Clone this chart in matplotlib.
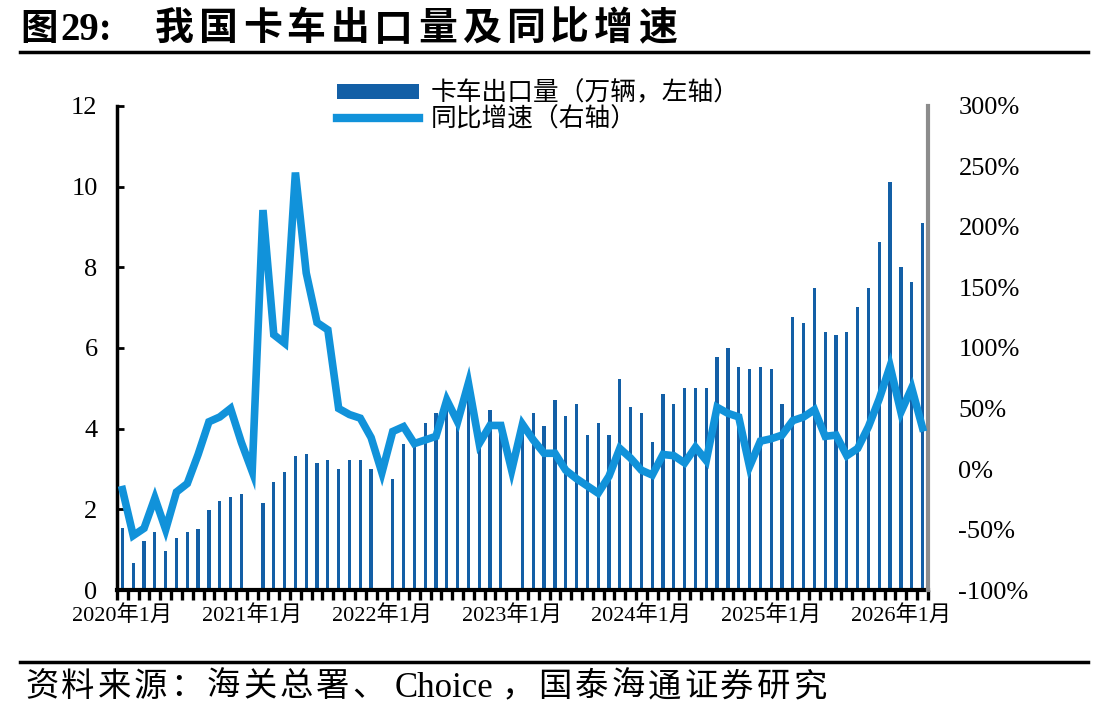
import numpy as np
import pandas as pd
import matplotlib
matplotlib.use('Agg')
import matplotlib.pyplot as plt
from matplotlib.lines import Line2D
from matplotlib.patches import Patch

plt.rcParams['font.family'] = ['Liberation Serif', 'Noto Sans CJK SC']
plt.rcParams['axes.unicode_minus'] = False

# 月份：2020年1月 - 2026年3月
months = pd.period_range('2020-01', '2026-03', freq='M')

# 卡车出口量（万辆）
export_vol = [
    1.53, 0.67, 1.21, 1.44, 0.97, 1.29, 1.44, 1.52, 1.98, 2.21, 2.30, 2.38,
    np.nan, 2.15, 2.69, 2.92, 3.31, 3.37, 3.14, 3.22, 3.00, 3.22, 3.22, 3.00,
    np.nan, 2.75, 3.62, 3.55, 4.15, 4.39, 4.85, 4.30, 4.95, 3.65, 4.46, 4.05,
    np.nan, 4.15, 4.38, 4.07, 4.70, 4.32, 4.61, 3.84, 4.15, 3.84, 5.23, 4.53,
    4.38, 3.67, 4.86, 4.61, 5.00, 5.00, 5.00, 5.77, 6.01, 5.54, 5.47, 5.54,
    5.47, 4.61, 6.78, 6.63, 7.48, 6.39, 6.31, 6.39, 7.01, 7.48, 8.64, 10.11,
    8.02, 7.63, 9.11,
]

# 同比增速（%）
yoy = [
    -17, -55, -49, -24, -50, -19, -12, 12, 39, 43, 50, 22,
    -2, 214, 111, 104, 245, 162, 121, 115, 50, 45, 42, 26,
    -3, 31, 35, 21, 24, 27, 57, 39, 71, 21, 36, 36,
    -1, 37, 24, 13, 13, -1, -8, -14, -20, -6, 17, 9,
    -1, -5, 12, 11, 5, 18, 7, 51, 46, 43, 2, 23,
    25, 28, 40, 43, 49, 27, 28, 11, 17, 35, 58, 85,
    47, 67, 34,
]

BAR_COLOR = '#135FA6'
LINE_COLOR = '#1192DA'


def spaced_text(fig, x_px, y_frac, s, gap_px, **kw):
    # 逐字排列，模拟原图的字间距
    renderer = fig.canvas.get_renderer()
    W = fig.bbox.width
    x = x_px
    for ch in s:
        t = fig.text(x / W, y_frac, ch, va='center', ha='left', **kw)
        w = t.get_window_extent(renderer).width
        x += w + gap_px
    return x


fig = plt.figure(figsize=(11.06, 7.19), dpi=100)
ax = fig.add_axes([0.1058, 0.1794, 0.7332, 0.6732])
ax2 = ax.twinx()

x = np.arange(len(months))
ax.bar(x, export_vol, width=0.3, color=BAR_COLOR, zorder=2)
ax2.plot(x, np.array(yoy) / 100, color=LINE_COLOR, lw=5.5, solid_joinstyle='miter', zorder=3)

ax.set_xlim(-0.5, len(months) - 0.5)
ax.set_ylim(0, 12)
ax.set_yticks(range(0, 13, 2))
ax2.set_ylim(-1, 3)
ax2.set_yticks(np.arange(-1, 3.01, 0.5))
ax2.set_yticklabels([f'{int(round(v * 100))}%' for v in np.arange(-1, 3.01, 0.5)])

# x 轴：每月刻度线，每年 1 月标注
label_pos = [i for i, m in enumerate(months) if m.month == 1]
ax.set_xticks(label_pos)
ax.set_xticklabels([f'{months[i].year}年1月' for i in label_pos], fontsize=16)
ax.set_xticks(np.arange(-0.5, len(months)), minor=True)
ax.tick_params(axis='x', which='major', length=0, pad=11)
ax.tick_params(axis='x', which='minor', direction='out', length=7, width=2.4, color='black')
ax.tick_params(axis='y', direction='in', length=5, width=2, labelsize=19, pad=14)
ax2.tick_params(axis='y', length=0, labelsize=19, pad=22)

for a in (ax, ax2):
    a.spines['top'].set_visible(False)
ax.spines['right'].set_visible(False)
ax.spines['left'].set_linewidth(2.5)
ax.spines['bottom'].set_linewidth(3)
ax2.spines['left'].set_visible(False)
ax2.spines['bottom'].set_visible(False)
ax2.spines['right'].set_color('#8c8c8c')
ax2.spines['right'].set_linewidth(3)

handles = [Patch(facecolor=BAR_COLOR), Line2D([0], [0], color=LINE_COLOR, lw=6)]
fig.legend(handles, ['卡车出口量（万辆，左轴）', '同比增速（右轴）'],
           loc='upper left', bbox_to_anchor=(0.295, 0.902), frameon=False,
           fontsize=18.5, handlelength=3.2, handleheight=0.55, labelspacing=0.05,
           handletextpad=0.45, borderaxespad=0)

# 标题与来源
fig.text(20 / 1106, 0.958, '图', fontsize=27, fontweight='bold', va='center', ha='left')
fig.text(60 / 1106, 0.958, '29:', fontsize=28, fontweight='bold', va='center', ha='left')
spaced_text(fig, 155, 0.958, '我国卡车出口量及同比增速', 5, fontsize=28, fontweight='bold')
fig.add_artist(Line2D([0.018, 0.984], [0.927, 0.927], color='black', lw=2.5))
fig.add_artist(Line2D([0.018, 0.984], [0.079, 0.079], color='black', lw=2.5))
spaced_text(fig, 25, 0.043, '资料来源：海关总署、', 3, fontsize=24)
fig.text(395 / 1106, 0.043, 'Choice', fontsize=25, va='center', ha='left')
spaced_text(fig, 502, 0.043, '，国泰海通证券研究', 3, fontsize=24)

fig.savefig('out.png', dpi=100)
